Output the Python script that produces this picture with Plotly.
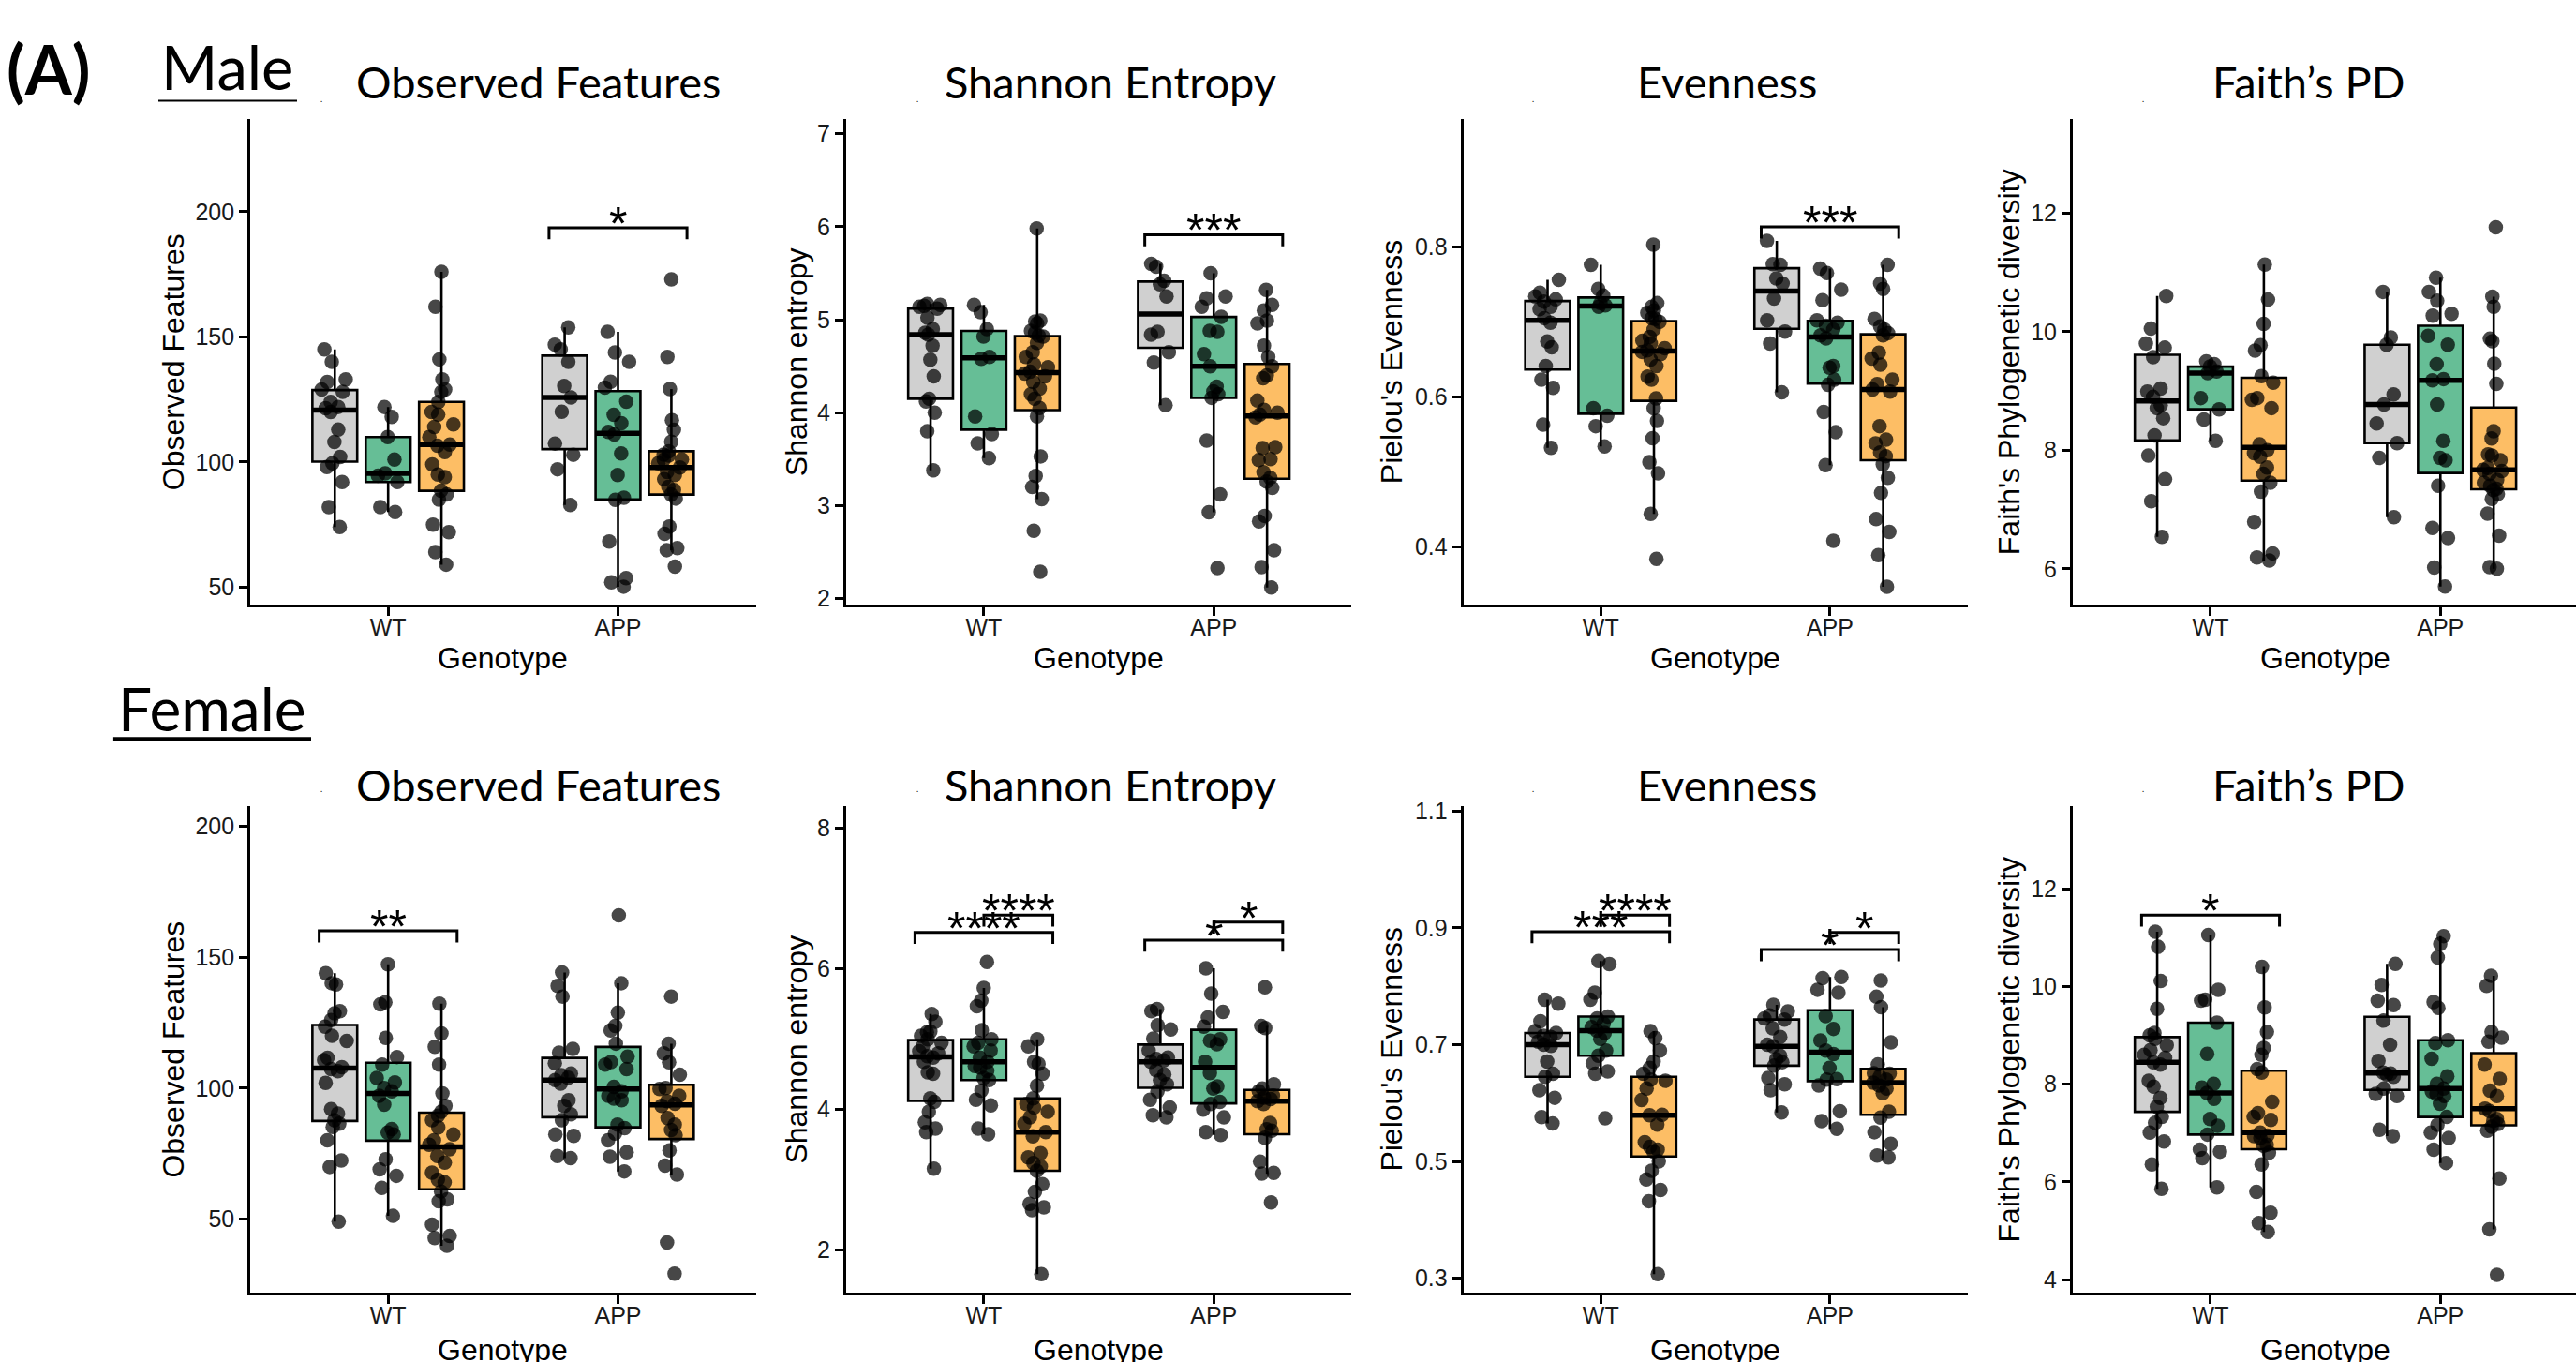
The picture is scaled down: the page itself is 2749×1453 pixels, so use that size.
import numpy as np
import plotly.graph_objects as go

# ======================= DATA =======================
GENOTYPES = ["WT", "APP"]
GROUP_FILLS = ["#D0D0D0", "#66BE96", "#FDBE65"]

PANEL_TITLES = ["Observed Features", "Shannon Entropy", "Evenness", "Faith\u2019s PD"]
Y_TITLES = ["Observed Features", "Shannon entropy", "Pielou's Evenness", "Faith's Phylogenetic diversity"]
X_TITLE = "Genotype"
SEX_LABELS = ["Male", "Female"]
PANEL_TAG = "(A)"

# ---- Male ----
M_OBS_WT = [
    [145, 140, 133, 132, 129, 128, 124, 122, 121.5, 120, 113, 108, 102, 99.5, 98, 92, 82, 74],
    [122, 118, 110, 101, 95.5, 94.5, 92, 82, 80],
    [176, 162, 141, 133, 129, 128, 124, 120, 119, 115, 114, 110, 107, 106.5, 104, 99, 95, 94, 88.5, 87, 85, 75, 72, 64, 59],
]
M_OBS_APP = [
    [153.8, 146.9, 145, 140, 130.4, 125.8, 120.1, 107.4, 102.9, 97.1, 82.8],
    [152, 143.8, 140, 132.1, 129.7, 124.1, 118.9, 115.5, 112, 111, 103.4, 94.8, 85.7, 84.9, 68.2, 53.6, 51.9, 50.2],
    [173, 142, 129.2, 116.7, 112.9, 108.1, 104.3, 103, 102.6, 101, 100.9, 99.5, 97.8, 96, 94.8, 93.1, 90, 88.8, 87, 85.4, 74.2, 71.3, 65.6, 64.8, 58.2],
]
M_SHA_WT = [
    [5.17, 5.16, 5.15, 5.14, 5.12, 5.02, 4.9, 4.86, 4.84, 4.72, 4.57, 4.39, 4.15, 4.12, 4.0, 3.8, 3.38],
    [5.16, 5.08, 4.9, 4.82, 4.6, 4.58, 3.96, 3.77, 3.67, 3.51],
    [5.98, 4.99, 4.98, 4.96, 4.88, 4.86, 4.83, 4.82, 4.75, 4.65, 4.6, 4.52, 4.49, 4.44, 4.42, 4.39, 4.33, 4.26, 4.2, 4.15, 4.05, 3.96, 3.53, 3.32, 3.2, 3.07, 2.73, 2.29],
]
M_SHA_APP = [
    [5.6, 5.57, 5.42, 5.38, 5.25, 4.87, 4.84, 4.65, 4.54, 4.08],
    [5.5, 5.25, 5.23, 5.14, 5.03, 4.88, 4.87, 4.63, 4.5, 4.28, 4.23, 4.2, 4.16, 3.7, 3.12, 2.93, 2.33],
    [5.32, 5.16, 5.1, 4.99, 4.96, 4.72, 4.6, 4.5, 4.4, 4.37, 4.13, 4.03, 4.0, 3.98, 3.95, 3.63, 3.62, 3.5, 3.49, 3.36, 3.3, 3.26, 3.19, 2.89, 2.83, 2.52, 2.34, 2.12],
]
M_EVE_WT = [
    [0.756, 0.739, 0.734, 0.73, 0.727, 0.72, 0.717, 0.705, 0.699, 0.674, 0.666, 0.641, 0.623, 0.612, 0.563, 0.532],
    [0.776, 0.744, 0.735, 0.725, 0.722, 0.72, 0.585, 0.575, 0.561, 0.534],
    [0.803, 0.725, 0.72, 0.715, 0.712, 0.705, 0.704, 0.70, 0.69, 0.68, 0.675, 0.671, 0.665, 0.662, 0.66, 0.657, 0.65, 0.641, 0.627, 0.623, 0.598, 0.585, 0.568, 0.545, 0.513, 0.498, 0.444, 0.384],
]
M_EVE_APP = [
    [0.808, 0.777, 0.776, 0.758, 0.751, 0.731, 0.702, 0.687, 0.671, 0.606],
    [0.771, 0.765, 0.743, 0.729, 0.702, 0.699, 0.695, 0.69, 0.682, 0.678, 0.641, 0.639, 0.623, 0.616, 0.58, 0.553, 0.509, 0.408],
    [0.776, 0.751, 0.744, 0.704, 0.694, 0.69, 0.685, 0.682, 0.659, 0.651, 0.643, 0.623, 0.617, 0.61, 0.607, 0.561, 0.543, 0.538, 0.526, 0.521, 0.51, 0.492, 0.472, 0.437, 0.42, 0.389, 0.347],
]
M_FPD_WT = [
    [10.6, 10.05, 9.8, 9.73, 9.57, 9.04, 8.99, 8.9, 8.76, 8.71, 8.54, 8.25, 7.91, 7.51, 7.14, 6.54],
    [9.5, 9.45, 9.41, 9.33, 9.3, 8.88, 8.69, 8.52, 8.16],
    [11.13, 10.54, 10.13, 9.77, 9.68, 9.25, 9.14, 8.88, 8.85, 8.71, 8.1, 8.0, 7.95, 7.89, 7.71, 7.6, 7.45, 7.3, 6.79, 6.26, 6.19, 6.14],
]
M_FPD_APP = [
    [10.67, 9.9, 9.78, 8.94, 8.77, 8.45, 8.12, 7.87, 6.87],
    [10.91, 10.67, 10.52, 10.3, 10.27, 9.93, 9.78, 9.45, 9.2, 9.18, 8.77, 8.16, 7.87, 7.83, 7.4, 6.69, 6.52, 6.02, 5.7],
    [11.76, 10.59, 10.42, 9.88, 9.84, 9.46, 9.12, 8.32, 8.2, 7.93, 7.91, 7.83, 7.7, 7.67, 7.65, 7.6, 7.5, 7.45, 7.4, 7.35, 7.33, 7.26, 7.18, 6.93, 6.56, 6.03, 6.0],
]

# ---- Female ----
F_OBS_WT = [
    [143.9, 140.1, 139.6, 129.4, 128.6, 126, 123.5, 120, 118, 111.6, 110.7, 108, 107.3, 106.5, 102, 92, 90.3, 87.8, 86.4, 85.2, 80.1, 72.4, 69.9, 49],
    [147.3, 132.8, 132, 119.2, 111.9, 109, 103.9, 102.2, 100, 98.8, 97.1, 93.7, 84.4, 83, 82.3, 72.8, 69, 66.5, 61.9, 51.2],
    [132.3, 120.9, 115.8, 109, 98, 93.2, 91, 89.5, 87.8, 85, 82.3, 80.1, 78.4, 76.7, 74.1, 71.6, 67.7, 65, 64, 60.5, 57.5, 56.8, 47.8, 43.5, 42.7, 39.8],
]
F_OBS_APP = [
    [144.2, 139.1, 135, 115, 113.6, 109.5, 105.6, 105, 104, 103.1, 101.7, 95.4, 93.2, 90, 87.8, 82.3, 81.8, 74.1, 73.3],
    [166, 140.1, 128.9, 123.8, 122.1, 117, 112, 110, 109, 107.3, 100.5, 98.8, 97.1, 96, 95.4, 86.1, 84.7, 82.7, 80.1, 75.5, 73.8, 68.2],
    [135, 117, 113.3, 109.9, 105.1, 100, 99.7, 97.1, 95, 94, 93.2, 88.6, 86.1, 84, 82, 76.2, 70.4, 67, 41, 29.1],
]
F_SHA_WT = [
    [5.36, 5.25, 5.11, 5.1, 5.05, 5.0, 4.95, 4.9, 4.83, 4.8, 4.76, 4.74, 4.68, 4.53, 4.51, 4.16, 4.11, 3.97, 3.82, 3.73, 3.68, 3.16],
    [6.1, 5.73, 5.55, 5.47, 5.13, 5.0, 4.95, 4.9, 4.84, 4.74, 4.68, 4.62, 4.6, 4.55, 4.45, 4.42, 4.27, 4.14, 4.06, 3.73, 3.65],
    [5.0, 4.9, 4.68, 4.65, 4.51, 4.34, 4.16, 4.08, 4.03, 3.97, 3.89, 3.8, 3.68, 3.62, 3.38, 3.32, 3.24, 3.19, 3.13, 2.94, 2.83, 2.66, 2.61, 2.57, 1.66],
]
F_SHA_APP = [
    [5.43, 5.4, 5.2, 5.14, 5.01, 4.84, 4.74, 4.72, 4.7, 4.68, 4.56, 4.5, 4.42, 4.36, 4.26, 4.14, 4.03, 3.92, 3.89],
    [6.01, 5.65, 5.39, 5.31, 5.18, 5.0, 4.98, 4.93, 4.68, 4.52, 4.33, 4.3, 4.11, 4.08, 4.0, 3.89, 3.68, 3.64],
    [5.74, 5.19, 5.16, 4.36, 4.3, 4.26, 4.2, 4.17, 4.15, 4.12, 4.08, 3.81, 3.72, 3.7, 3.6, 3.26, 3.1, 3.09, 2.68],
]
F_EVE_WT = [
    [0.777, 0.77, 0.74, 0.723, 0.72, 0.715, 0.713, 0.705, 0.70, 0.698, 0.671, 0.65, 0.645, 0.622, 0.609, 0.576, 0.565],
    [0.843, 0.838, 0.789, 0.777, 0.748, 0.745, 0.736, 0.73, 0.724, 0.72, 0.71, 0.69, 0.681, 0.668, 0.654, 0.65, 0.574],
    [0.723, 0.711, 0.69, 0.671, 0.66, 0.65, 0.64, 0.638, 0.625, 0.605, 0.58, 0.579, 0.563, 0.533, 0.525, 0.52, 0.517, 0.5, 0.484, 0.469, 0.451, 0.432, 0.307],
]
F_EVE_APP = [
    [0.768, 0.757, 0.75, 0.745, 0.743, 0.728, 0.713, 0.70, 0.697, 0.681, 0.675, 0.67, 0.664, 0.643, 0.632, 0.622, 0.584],
    [0.816, 0.814, 0.794, 0.789, 0.749, 0.727, 0.707, 0.69, 0.684, 0.66, 0.641, 0.64, 0.63, 0.586, 0.569, 0.556],
    [0.81, 0.782, 0.764, 0.704, 0.666, 0.651, 0.65, 0.645, 0.64, 0.635, 0.63, 0.625, 0.617, 0.585, 0.575, 0.55, 0.53, 0.51, 0.507],
]
F_FPD_WT = [
    [11.12, 10.81, 10.11, 9.54, 9.05, 9.0, 8.93, 8.8, 8.7, 8.6, 8.54, 8.45, 8.4, 8.07, 7.95, 7.72, 7.54, 7.33, 7.21, 7.01, 6.83, 6.36, 5.86],
    [11.05, 9.93, 9.73, 9.71, 9.26, 8.62, 8.01, 7.93, 7.82, 7.7, 7.29, 7.15, 6.97, 6.66, 6.62, 6.49, 5.89],
    [10.4, 9.57, 9.07, 8.74, 8.6, 8.31, 8.24, 7.64, 7.41, 7.33, 7.27, 7.01, 6.95, 6.94, 6.9, 6.76, 6.74, 6.6, 6.36, 5.8, 5.37, 5.16, 4.98],
]
F_FPD_APP = [
    [10.46, 10.03, 9.71, 9.62, 9.3, 8.81, 8.48, 8.24, 8.22, 8.2, 8.15, 7.91, 7.8, 7.76, 7.07, 6.94],
    [11.03, 10.87, 10.59, 9.68, 9.56, 8.9, 8.84, 8.52, 8.16, 8.01, 7.91, 7.85, 7.8, 7.76, 7.6, 7.33, 7.17, 7.01, 6.9, 6.66, 6.39],
    [10.22, 10.01, 9.07, 8.95, 8.87, 8.4, 8.11, 7.87, 7.76, 7.5, 7.45, 7.29, 7.25, 7.19, 7.13, 7.05, 6.07, 5.03, 4.1],
]

# significance brackets: (genotype, from group, to group, y, label)
M_OBS_SIG = [("APP", 0, 2, 193.6, "*")]
M_SHA_SIG = [("APP", 0, 2, 5.914, "***")]
M_EVE_SIG = [("APP", 0, 2, 0.8266, "***")]
M_FPD_SIG = []
F_OBS_SIG = [("WT", 0, 2, 160.1, "**")]
F_SHA_SIG = [("WT", 0, 2, 6.52, "****"), ("WT", 1, 2, 6.766, "****"),
             ("APP", 0, 2, 6.41, "*"), ("APP", 1, 2, 6.667, "*")]
F_EVE_SIG = [("WT", 0, 2, 0.8935, "***"), ("WT", 1, 2, 0.9218, "****"),
             ("APP", 0, 2, 0.8627, "*"), ("APP", 1, 2, 0.8922, "*")]
F_FPD_SIG = [("WT", 0, 2, 11.46, "*")]

Y_TICKS = [
    [50, 100, 150, 200], [2, 3, 4, 5, 6, 7], [0.4, 0.6, 0.8], [6, 8, 10, 12],
    [50, 100, 150, 200], [2, 4, 6, 8], [0.3, 0.5, 0.7, 0.9, 1.1], [4, 6, 8, 10, 12],
]

# ======================= LAYOUT / STYLE =======================
W, H = 2749, 1453
Y_RANGES = [
    [43.0, 236.9], [1.935, 7.155], [0.323, 0.970], [5.395, 13.58],
    [21.96, 207.6], [1.40, 8.31], [0.2757, 1.1078], [3.742, 13.68],
]
COL_X = [(267.0, 806.7), (902.8, 1442.4), (1561.5, 2099.6), (2211.8, 2749.0)]
X_RANGES = [[0.4, 2.6], [0.4, 2.6], [0.4, 2.6], [0.4, 2.59]]
ROW_Y = [(119.6, 643.2), (860.9, 1385.0)]
TITLE_X = [574, 1185, 1842.6, 2463.6]
TITLE_Y = [79.0, 836.8]
YTITLE_X = [185, 850, 1485, 2144]
XTITLE_DY = [57.4, 62.0]
DOTS_X = [342.6, 979, 1636, 2287]
DOTS_Y = [101, 845]

BOX_OFFSETS = [-0.232, 0.0, 0.232]
BOX_WIDTH = 0.195
BRACKET_OFFSETS = [-0.3, 0.0, 0.3]
LEG_PX = 12.5

AX_FONT = "Liberation Sans, Arial, Helvetica, sans-serif"
TITLE_FONT = "Lato, Open Sans, sans-serif"

panels = [
    (M_OBS_WT, M_OBS_APP, M_OBS_SIG), (M_SHA_WT, M_SHA_APP, M_SHA_SIG),
    (M_EVE_WT, M_EVE_APP, M_EVE_SIG), (M_FPD_WT, M_FPD_APP, M_FPD_SIG),
    (F_OBS_WT, F_OBS_APP, F_OBS_SIG), (F_SHA_WT, F_SHA_APP, F_SHA_SIG),
    (F_EVE_WT, F_EVE_APP, F_EVE_SIG), (F_FPD_WT, F_FPD_APP, F_FPD_SIG),
]


def box_stats(v):
    a = np.sort(np.asarray(v, dtype=float))
    q1, med, q3 = np.percentile(a, [25, 50, 75])
    iqr = q3 - q1
    lo = a[a >= q1 - 1.5 * iqr].min()
    hi = a[a <= q3 + 1.5 * iqr].max()
    return q1, med, q3, lo, hi


def px_x(p):
    return p / W


def px_y(p):
    return 1 - p / H


fig = go.Figure()
layout = dict(
    width=W, height=H, margin=dict(l=0, r=0, t=0, b=0),
    paper_bgcolor="white", plot_bgcolor="white",
    showlegend=False, boxmode="overlay", hovermode=False,
)
annotations = []
shapes = []

for k, (wt, app, sig) in enumerate(panels, start=1):
    row, col = (k - 1) // 4, (k - 1) % 4
    xa = "x" if k == 1 else f"x{k}"
    ya = "y" if k == 1 else f"y{k}"
    xl, xr = COL_X[col]
    yt, yb = ROW_Y[row]
    common = dict(
        showline=True, linecolor="black", linewidth=2.6, mirror=False,
        ticks="outside", ticklen=9, tickwidth=2.6, tickcolor="black",
        showgrid=False, zeroline=False,
        tickfont=dict(family=AX_FONT, size=25, color="#1a1a1a"),
    )
    layout["xaxis" if k == 1 else f"xaxis{k}"] = dict(
        domain=[px_x(xl), min(px_x(xr), 1.0)], range=X_RANGES[col], anchor=ya,
        tickmode="array", tickvals=[1, 2], ticktext=GENOTYPES,
        ticklabelstandoff=-9, **common)
    layout["yaxis" if k == 1 else f"yaxis{k}"] = dict(
        domain=[px_y(yb), px_y(yt)], range=Y_RANGES[k - 1], anchor=xa,
        tickmode="array", tickvals=Y_TICKS[k - 1], **common)

    for gi, groups in enumerate([wt, app]):
        for j, vals in enumerate(groups):
            pos = gi + 1 + BOX_OFFSETS[j]
            q1, med, q3, lo, hi = box_stats(vals)
            # box body + whiskers
            fig.add_trace(go.Box(
                x=[pos], q1=[q1], median=[med], q3=[q3], lowerfence=[lo], upperfence=[hi],
                orientation="v", width=BOX_WIDTH, fillcolor=GROUP_FILLS[j],
                line=dict(color="black", width=2.6), whiskerwidth=0, boxpoints=False,
                xaxis=xa, yaxis=ya, hoverinfo="skip"))
            # thick median
            fig.add_trace(go.Box(
                x=[pos], q1=[med], median=[med], q3=[med], lowerfence=[med], upperfence=[med],
                orientation="v", width=BOX_WIDTH, fillcolor="rgba(0,0,0,0)",
                line=dict(color="black", width=5.5), whiskerwidth=0, boxpoints=False,
                xaxis=xa, yaxis=ya, hoverinfo="skip"))
            # jittered points
            fig.add_trace(go.Box(
                x=[pos] * len(vals), y=vals, orientation="v", width=BOX_WIDTH,
                boxpoints="all", jitter=0.6, pointpos=0,
                fillcolor="rgba(0,0,0,0)", line=dict(color="rgba(0,0,0,0)", width=0),
                whiskerwidth=0,
                marker=dict(color="black", size=15.5, opacity=0.72, line=dict(width=0)),
                xaxis=xa, yaxis=ya, hoverinfo="skip"))

    # brackets
    r0, r1 = Y_RANGES[k - 1]
    units_per_px = (r1 - r0) / (yb - yt)
    leg = LEG_PX * units_per_px
    for geno, a, b, yv, lab in sig:
        gpos = GENOTYPES.index(geno) + 1
        x0 = gpos + BRACKET_OFFSETS[a]
        x1 = gpos + BRACKET_OFFSETS[b]
        shapes.append(dict(
            type="path", xref=xa, yref=ya,
            path=f"M {x0},{yv - leg} L {x0},{yv} L {x1},{yv} L {x1},{yv - leg}",
            line=dict(color="black", width=3)))
        annotations.append(dict(
            x=(x0 + x1) / 2, y=yv, xref=xa, yref=ya, text=lab, showarrow=False,
            yanchor="middle", xanchor="center", yshift=4,
            font=dict(family=AX_FONT, size=50, color="black")))

    # panel title
    annotations.append(dict(
        x=px_x(TITLE_X[col]), y=px_y(TITLE_Y[row]), xref="paper", yref="paper",
        text=PANEL_TITLES[col], showarrow=False, xanchor="center", yanchor="middle",
        font=dict(family=TITLE_FONT, size=47, color="black")))
    # small stray dot left of title
    annotations.append(dict(
        x=px_x(DOTS_X[col]), y=px_y(DOTS_Y[row] - 3), xref="paper", yref="paper",
        text=".", showarrow=False, xanchor="center", yanchor="middle",
        font=dict(family=TITLE_FONT, size=9, color="black")))
    # y axis title
    annotations.append(dict(
        x=px_x(YTITLE_X[col]), y=px_y((yt + yb) / 2), xref="paper", yref="paper",
        text=Y_TITLES[col], showarrow=False, textangle=-90,
        xanchor="center", yanchor="middle",
        font=dict(family=AX_FONT, size=32, color="black")))
    # x axis title
    annotations.append(dict(
        x=px_x((xl + xr) / 2 if col < 3 else (xl + 2751.5) / 2), y=px_y(yb + XTITLE_DY[row]),
        xref="paper", yref="paper", text=X_TITLE, showarrow=False,
        xanchor="center", yanchor="middle",
        font=dict(family=AX_FONT, size=32, color="black")))

# figure labels
annotations.append(dict(
    x=px_x(52), y=px_y(65), xref="paper", yref="paper", text=f"<b>{PANEL_TAG}</b>",
    showarrow=False, xanchor="center", yanchor="middle",
    font=dict(family=TITLE_FONT, size=72, color="black")))
annotations.append(dict(
    x=px_x(242), y=px_y(63), xref="paper", yref="paper", text=SEX_LABELS[0],
    showarrow=False, xanchor="center", yanchor="middle",
    font=dict(family=TITLE_FONT, size=65, color="black")))
annotations.append(dict(
    x=px_x(226), y=px_y(754.8), xref="paper", yref="paper", text=SEX_LABELS[1],
    showarrow=False, xanchor="center", yanchor="middle",
    font=dict(family=TITLE_FONT, size=64, color="black")))
shapes.append(dict(type="line", xref="paper", yref="paper",
                   x0=px_x(169), x1=px_x(317), y0=px_y(99.7), y1=px_y(99.7),
                   line=dict(color="black", width=2)))
shapes.append(dict(type="line", xref="paper", yref="paper",
                   x0=px_x(120.9), x1=px_x(332), y0=px_y(787.9), y1=px_y(787.9),
                   line=dict(color="black", width=4)))

layout["annotations"] = annotations
layout["shapes"] = shapes
fig.update_layout(**layout)
fig.write_html("out.html", config={"displayModeBar": False},
               post_script="document.body.style.margin='0px';")
